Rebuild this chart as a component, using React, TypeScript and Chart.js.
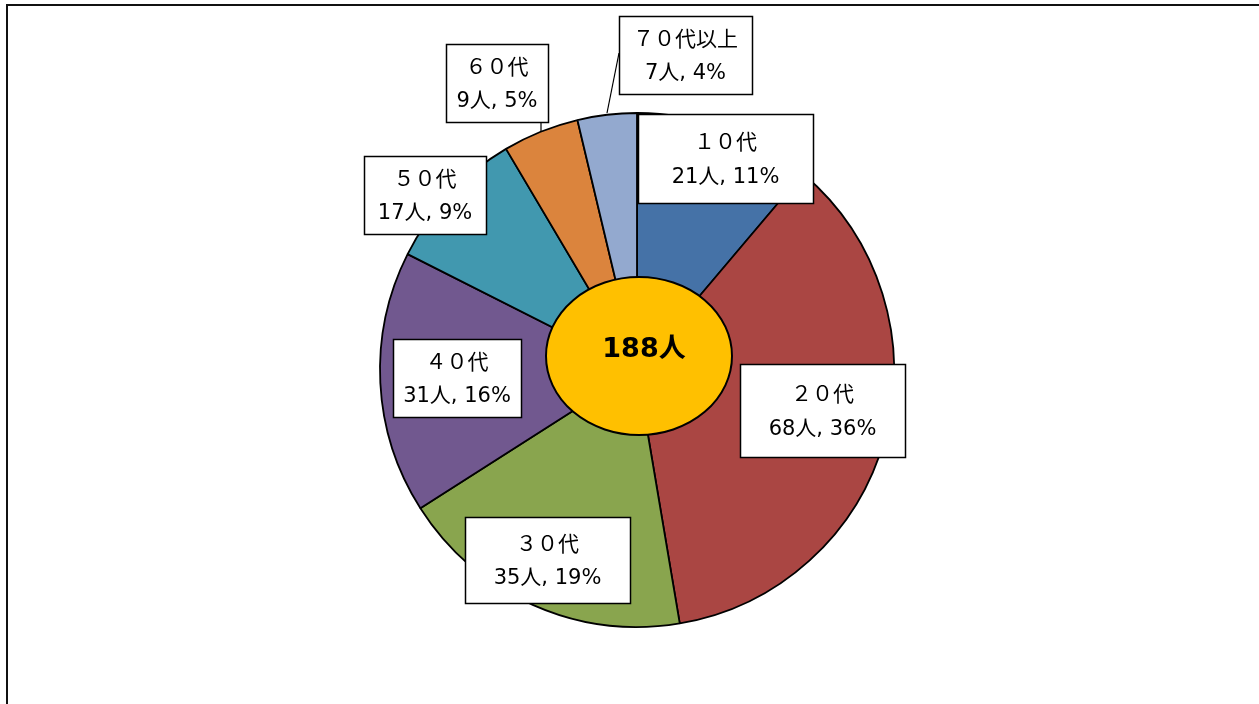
import React, { useEffect, useRef } from "react";
import { Chart, registerables } from "chart.js";

Chart.register(...registerables);

const categories = ["１０代", "２０代", "３０代", "４０代", "５０代", "６０代", "７０代以上"];
const counts = [21, 68, 35, 31, 17, 9, 7];
const percents = [11, 36, 19, 16, 9, 5, 4];
const totalLabel = "188人";
const colors = ["#4572A7", "#AA4643", "#89A54E", "#71588F", "#4198AF", "#DB843D", "#93A9CF"];

// label box layout: [left, top, width, height] in pixels
const boxLayout: number[][] = [
  [638, 114, 175, 89],
  [740, 364, 165, 93],
  [465, 517, 165, 86],
  [393, 339, 128, 78],
  [364, 156, 122, 78],
  [446, 44, 102, 78],
  [619, 16, 133, 78],
];
// leader lines: [x1,y1,x2,y2] or null
const leaders: (number[] | null)[] = [null, null, null, null, null, [541, 123, 541, 132], [619, 53, 607, 113]];

const FONT = '"DejaVu Sans", "Noto Sans CJK JP", sans-serif';
const CJK = '"Noto Sans CJK JP", sans-serif';

const overlay = {
  id: "overlay",
  afterDraw(chart: any) {
    const ctx = chart.ctx as CanvasRenderingContext2D;
    ctx.save();
    // frame
    ctx.strokeStyle = "#111";
    ctx.lineWidth = 2;
    ctx.beginPath();
    ctx.moveTo(7, 710);
    ctx.lineTo(7, 5);
    ctx.lineTo(1265, 5);
    ctx.stroke();

    // center ellipse
    const arc = chart.getDatasetMeta(0).data[0];
    const cx = arc.x + 2;
    const cy = arc.y - 14;
    ctx.beginPath();
    ctx.ellipse(cx, cy, 93, 79, 0, 0, Math.PI * 2);
    ctx.fillStyle = "#FFC000";
    ctx.fill();
    ctx.lineWidth = 2;
    ctx.strokeStyle = "#000";
    ctx.stroke();
    ctx.fillStyle = "#000";
    ctx.font = `bold 27px ${FONT}`;
    ctx.textAlign = "center";
    ctx.textBaseline = "middle";
    ctx.fillText(totalLabel, cx + 5, cy - 6);

    // leader lines
    ctx.lineWidth = 1.2;
    leaders.forEach((l) => {
      if (!l) return;
      ctx.beginPath();
      ctx.moveTo(l[0], l[1]);
      ctx.lineTo(l[2], l[3]);
      ctx.stroke();
    });

    // label boxes
    categories.forEach((c, i) => {
      const [x, y, w, h] = boxLayout[i];
      ctx.fillStyle = "#fff";
      ctx.fillRect(x, y, w, h);
      ctx.lineWidth = 1.5;
      ctx.strokeStyle = "#000";
      ctx.strokeRect(x + 0.5, y + 0.5, w, h);
      ctx.fillStyle = "#000";
      const mx = x + w / 2;
      const my = y + h / 2;
      ctx.font = `21px ${CJK}`;
      ctx.fillText(c, mx, my - 17);
      ctx.font = `21px ${FONT}`;
      ctx.fillText(`${counts[i]}人, ${percents[i]}%`, mx, my + 19);
    });
    ctx.restore();
  },
};

export default function App() {
  const ref = useRef<HTMLCanvasElement>(null);
  useEffect(() => {
    const chart = new Chart(ref.current!, {
      type: "pie",
      data: {
        labels: categories,
        datasets: [
          {
            data: counts,
            backgroundColor: colors,
            borderColor: "#000",
            borderWidth: 1.8,
          },
        ],
      },
      options: {
        responsive: false,
        animation: false,
        radius: 257,
        layout: { padding: { left: 15, right: 0, top: 36, bottom: 0 } },
        plugins: { legend: { display: false }, tooltip: { enabled: false } },
      } as any,
      plugins: [overlay],
    });
    return () => chart.destroy();
  }, []);
  return (
    <div style={{ position: "fixed", left: 0, top: 0, width: 1259, height: 704, background: "#fff" }}>
      <canvas ref={ref} width={1259} height={704} />
    </div>
  );
}
